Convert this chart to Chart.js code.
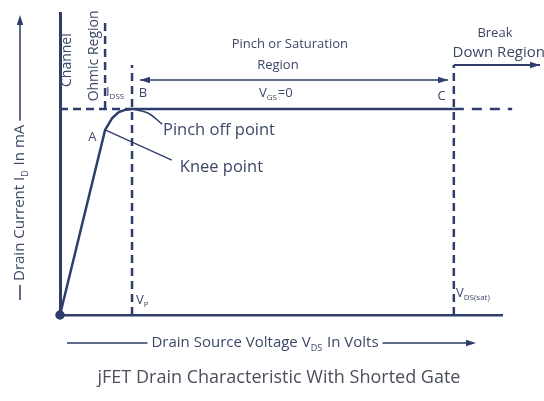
<!DOCTYPE html>
<html>
<head>
<meta charset="utf-8">
<script src="https://cdn.jsdelivr.net/npm/chart.js@4"></script>
<style>
  body { margin: 0; background: #fff; }
  canvas { display: block; }
</style>
</head>
<body>
<canvas id="jfetChart" width="544" height="401"></canvas>
<script>
// drain curve with VGS = 0 (arbitrary units, no tick labels in the picture)
const curveV = [0, 10.2, 11.8, 13.3, 14.9, 16.3, 89.1];
const curveI = [0, 61.3, 65.2, 67.2, 68.0, 68.2, 68.2];

const vP = 16.3;       // pinch off voltage
const vSat = 89.1;     // VDS(sat) / breakdown start
const iDss = 68.2;     // IDSS level
const iBreak = 82.8;   // top of the breakdown marker
const vOhmic = 10.2;   // ohmic / channel boundary
const vBoxEnd = 102.3;
const vArrowEnd = 108.6;

const pinchPtrV = [16.3, 19.9, 23.1];
const pinchPtrI = [68.2, 66.9, 63.2];
const kneePtrV = [10.2, 25.3];
const kneePtrI = [61.3, 51.3];

const satArrowV = [18.1, 87.8];
const satArrowI = [77.8, 77.8];

const lineColor = '#2e3d6b';
const textColor = '#3c4868';
const font = "'Open Sans', 'Noto Sans', sans-serif";

function pts(xs, ys) {
    return xs.map((x, i) => ({ x: x, y: ys[i] }));
}

function line(data, extra) {
    return Object.assign({
        data: data,
        showLine: true,
        borderColor: lineColor,
        backgroundColor: lineColor,
        borderWidth: 2.5,
        pointRadius: 0,
        fill: false,
        clip: false
    }, extra || {});
}

// text placed in data units; sub = subscript
const labels = [
    { text: 'Channel', x: 1.6, y: 84.4, size: 14, rot: true },
    { text: 'Ohmic Region', x: 7.7, y: 85.8, size: 14, rot: true },
    { text: 'I', sub: 'DSS', x: 10.4, y: 73.8, size: 13 },
    { text: 'B', x: 17.8, y: 73.5, size: 13 },
    { text: 'A', x: 6.4, y: 58.9, size: 13 },
    { text: 'Pinch or Saturation', x: 52.0, y: 89.7, size: 13, center: true },
    { text: 'Region', x: 49.3, y: 82.8, size: 13, center: true },
    { text: 'V', sub: 'GS', after: '=0', x: 45.0, y: 73.5, size: 13 },
    { text: 'C', x: 85.4, y: 72.5, size: 13 },
    { text: 'Break', x: 98.4, y: 93.4, size: 13, center: true },
    { text: 'Down Region', x: 88.8, y: 86.8, size: 15 },
    { text: 'Pinch off point', x: 23.3, y: 61.3, size: 16.5 },
    { text: 'Knee point', x: 27.1, y: 49.0, size: 16.5 },
    { text: 'V', sub: 'P', x: 17.2, y: 5.0, size: 13 },
    { text: 'V', sub: 'DS(sat)', x: 89.6, y: 7.3, size: 13 }
];

function drawSub(ctx, lb, x, y) {
    ctx.font = lb.size + 'px ' + font;
    ctx.fillText(lb.text, x, y);
    let w = ctx.measureText(lb.text).width;
    if (lb.sub) {
        ctx.font = Math.round(lb.size * 0.6) + 'px ' + font;
        ctx.fillText(lb.sub, x + w, y + lb.size * 0.35);
        w += ctx.measureText(lb.sub).width;
        ctx.font = lb.size + 'px ' + font;
    }
    if (lb.after) {
        ctx.fillText(lb.after, x + w + 1, y);
        w += ctx.measureText(lb.after).width + 1;
    }
    return w;
}

function subWidth(ctx, lb) {
    ctx.font = lb.size + 'px ' + font;
    let w = ctx.measureText(lb.text).width + ctx.measureText(lb.after).width + 1;
    ctx.font = Math.round(lb.size * 0.6) + 'px ' + font;
    return w + ctx.measureText(lb.sub).width;
}

function arrowHead(ctx, x1, y1, x2, y2) {
    const a = Math.atan2(y2 - y1, x2 - x1);
    const len = 10, half = 3.2;
    ctx.beginPath();
    ctx.moveTo(x2, y2);
    ctx.lineTo(x2 - len * Math.cos(a) + half * Math.sin(a), y2 - len * Math.sin(a) - half * Math.cos(a));
    ctx.lineTo(x2 - len * Math.cos(a) - half * Math.sin(a), y2 - len * Math.sin(a) + half * Math.cos(a));
    ctx.closePath();
    ctx.fill();
}

const annotate = {
    id: 'annotate',
    afterDatasetsDraw(chart) {
        const ctx = chart.ctx;
        const sx = chart.scales.x, sy = chart.scales.y;
        ctx.save();
        ctx.fillStyle = lineColor;

        // arrow heads on flagged datasets
        chart.data.datasets.forEach((ds, i) => {
            const p = chart.getDatasetMeta(i).data;
            if (ds.arrowEnd) arrowHead(ctx, p[p.length - 2].x, p[p.length - 2].y, p[p.length - 1].x, p[p.length - 1].y);
            if (ds.arrowStart) arrowHead(ctx, p[1].x, p[1].y, p[0].x, p[0].y);
        });

        // labels inside the plot
        ctx.fillStyle = textColor;
        ctx.textBaseline = 'middle';
        labels.forEach(lb => {
            const x = sx.getPixelForValue(lb.x), y = sy.getPixelForValue(lb.y);
            ctx.font = lb.size + 'px ' + font;
            if (lb.rot) {
                ctx.save();
                ctx.translate(x, y);
                ctx.rotate(-Math.PI / 2);
                ctx.textAlign = 'center';
                ctx.fillText(lb.text, 0, 0);
                ctx.restore();
            } else if (lb.center) {
                ctx.textAlign = 'center';
                ctx.fillText(lb.text, x, y);
            } else {
                ctx.textAlign = 'left';
                drawSub(ctx, lb, x, y);
            }
        });

        // y axis title with arrow
        const yl = { text: 'Drain Current I', sub: 'D', after: ' In mA', size: 15 };
        const w = subWidth(ctx, yl);
        const tx = 20, yBottom = 281;
        ctx.save();
        ctx.translate(tx, yBottom);
        ctx.rotate(-Math.PI / 2);
        ctx.textAlign = 'left';
        drawSub(ctx, yl, 0, 0);
        ctx.restore();
        ctx.strokeStyle = lineColor;
        ctx.fillStyle = lineColor;
        ctx.lineWidth = 1.5;
        ctx.beginPath();
        ctx.moveTo(tx, 300); ctx.lineTo(tx, yBottom + 4);
        ctx.moveTo(tx, yBottom - w - 4); ctx.lineTo(tx, 22);
        ctx.stroke();
        arrowHead(ctx, tx, 30, tx, 15);

        // x axis title with arrow
        ctx.fillStyle = textColor;
        const xl = { text: 'Drain Source Voltage V', sub: 'DS', after: ' In Volts', size: 15 };
        const xw = subWidth(ctx, xl);
        const cx = 265, cy = 343;
        ctx.textAlign = 'left';
        drawSub(ctx, xl, cx - xw / 2, cy);
        ctx.beginPath();
        ctx.moveTo(67, cy); ctx.lineTo(cx - xw / 2 - 4, cy);
        ctx.moveTo(cx + xw / 2 + 4, cy); ctx.lineTo(470, cy);
        ctx.stroke();
        ctx.fillStyle = lineColor;
        arrowHead(ctx, 460, cy, 476, cy);

        // caption
        ctx.fillStyle = '#4a4f5c';
        ctx.font = '18px ' + font;
        ctx.textAlign = 'center';
        ctx.fillText('jFET Drain Characteristic With Shorted Gate', 279, 378);
        ctx.restore();
    }
};

const ctx = document.getElementById('jfetChart').getContext('2d');
const jfetChart = new Chart(ctx, {
    type: 'scatter',
    data: {
        datasets: [
            line(pts(curveV, curveI), { pointRadius: curveV.map((v, i) => i === 0 ? 3.5 : 0) }),
            line(pts(pinchPtrV, pinchPtrI), { borderWidth: 1.5, tension: 0.4 }),
            line(pts(kneePtrV, kneePtrI), { borderWidth: 1.3 }),
            line(pts([vP, vP], [0, iBreak]), { borderDash: [8, 5] }),
            line(pts([vSat, vSat], [0, iBreak]), { borderDash: [8, 5] }),
            line(pts([vOhmic, vOhmic], [iDss, 97.7]), { borderDash: [8, 5] }),
            line(pts([0, vP], [iDss, iDss]), { borderDash: [8, 5] }),
            line(pts([vSat, vBoxEnd, vBoxEnd], [iDss, iDss, iBreak]), { borderDash: [10, 8] }),
            line(pts([vSat, vArrowEnd], [iBreak, iBreak]), { borderWidth: 2, arrowEnd: true }),
            line(pts(satArrowV, satArrowI), { borderWidth: 1.5, arrowEnd: true, arrowStart: true })
        ]
    },
    options: {
        responsive: false,
        animation: false,
        layout: { padding: { left: 60, right: 42, top: 13, bottom: 86 } },
        plugins: {
            legend: { display: false },
            tooltip: { enabled: false }
        },
        scales: {
            x: {
                type: 'linear', min: 0, max: 100,
                ticks: { display: false },
                grid: { display: false, drawTicks: false },
                border: { display: true, color: lineColor, width: 2.5 }
            },
            y: {
                type: 'linear', min: 0, max: 100,
                ticks: { display: false },
                grid: { display: false, drawTicks: false },
                border: { display: true, color: lineColor, width: 3 }
            }
        }
    },
    plugins: [annotate]
});
</script>
</body>
</html>
